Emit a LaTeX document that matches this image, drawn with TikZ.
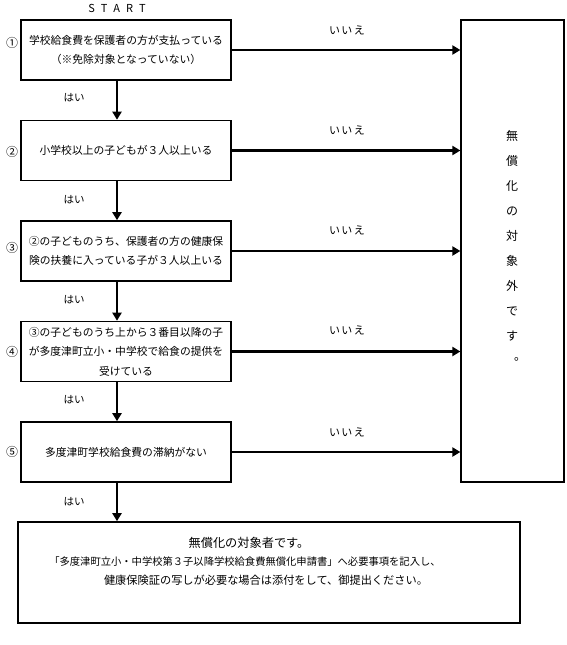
\documentclass[tikz,border=0pt]{standalone}
\usepackage{fontspec}
\setmainfont{Noto Sans CJK JP}
\usetikzlibrary{arrows.meta}
\begin{document}
\begin{tikzpicture}[x=1pt,y=-1pt,
  qbox/.style={draw=black,line width=1.6pt,minimum width=210pt,minimum height=60pt,inner sep=0pt,align=center,font=\fontsize{10.8}{19.5}\selectfont},
  lbl/.style={font=\fontsize{10.5}{12}\selectfont,inner sep=0pt},
  nolbl/.style={font=\fontsize{11}{12}\selectfont\addfontfeature{LetterSpace=12},inner sep=0pt},
  num/.style={font=\fontsize{12}{12}\selectfont,inner sep=0pt},
  flow/.style={line width=2.6pt,-{Triangle[length=8pt,width=9pt]}},
  ttl/.style={inner sep=0pt}]
\useasboundingbox (0,0) rectangle (567,645);
\fill[white] (0,0) rectangle (567,645);

\node[font=\fontsize{11}{12}\selectfont,inner sep=0pt] (start) at (117,8) {S\hspace{6pt}T\hspace{6pt}A\hspace{6pt}R\hspace{6pt}T};

\node[qbox] (b1) at (126,50) {学校給食費を保護者の方が支払っている\\（※免除対象となっていない）};
\node[qbox] (b2) at (126,150.5) {小学校以上の子どもが３人以上いる};
\node[qbox] (b3) at (126,251) {②の子どものうち、保護者の方の健康保\\険の扶養に入っている子が３人以上いる};
\node[qbox] (b4) at (126,351.5) {③の子どものうち上から３番目以降の子\\が多度津町立小・中学校で給食の提供を\\受けている};
\node[qbox] (b5) at (126,452) {多度津町学校給食費の滞納がない};

\node[draw=black,line width=1.2pt,minimum width=103pt,minimum height=462pt,inner sep=0pt] (no) at (512.5,251) {};
\node[font=\fontsize{12}{25}\selectfont,align=center,inner sep=0pt] (notxt) at (512,248) {無\\償\\化\\の\\対\\象\\外\\で\\す\\\makebox[12pt][l]{\hspace{8pt}\raisebox{5pt}{。}}};

\node[draw=black,line width=1.6pt,minimum width=502pt,minimum height=101pt,inner sep=0pt] (yes) at (269,572.5) {};
\node[ttl,font=\fontsize{12.2}{14}\selectfont] (yt1) at (249,543) {無償化の対象者です。};
\node[ttl,font=\fontsize{10.3}{12}\selectfont] (yt2) at (245,562) {「多度津町立小・中学校第３子以降学校給食費無償化申請書」へ必要事項を記入し、};
\node[ttl,font=\fontsize{11.2}{12}\selectfont] (yt3) at (266,580.5) {健康保険証の写しが必要な場合は添付をして、御提出ください。};

\foreach \n/\y in {1/43,2/152,3/248,4/352,5/452}{
  \node[num] (c\n) at (12,\y) {\ifcase\n\or ①\or ②\or ③\or ④\or ⑤\fi};
}

\foreach \b in {b1,b2,b3,b4,b5}{
  \draw[flow] (\b.east) -- (\b.east -| no.west);
}
\foreach \y [count=\i] in {30,130,230,330,432}{
  \node[nolbl] (no\i) at (347,\y) {いいえ};
}

\draw[flow] ([xshift=-9pt]b1.south) -- ([xshift=-9pt]b2.north);
\draw[flow] ([xshift=-9pt]b2.south) -- ([xshift=-9pt]b3.north);
\draw[flow] ([xshift=-9pt]b3.south) -- ([xshift=-9pt]b4.north);
\draw[flow] ([xshift=-9pt]b4.south) -- ([xshift=-9pt]b5.north);
\draw[flow] ([xshift=-9pt]b5.south) -- ([xshift=-9pt]b5.south |- yes.north);

\foreach \y [count=\i] in {98,200,300,400,502}{
  \node[lbl] (yl\i) at (74,\y) {はい};
}
\end{tikzpicture}
\end{document}
